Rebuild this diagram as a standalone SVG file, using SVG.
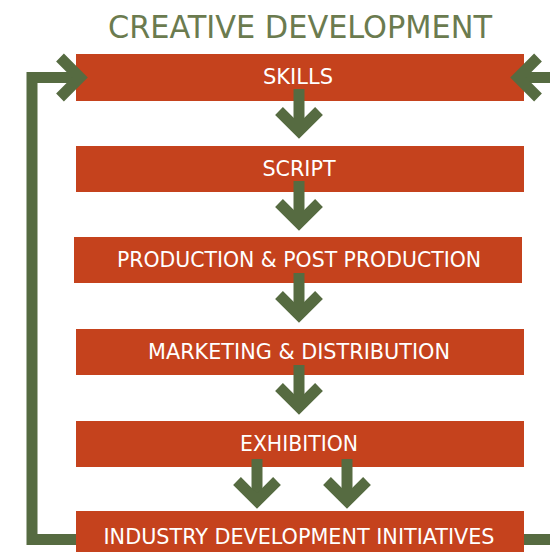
<svg xmlns="http://www.w3.org/2000/svg" width="550" height="552" viewBox="0 0 550 552">
<style>
.box{fill:#C5421D}
.lbl{fill:#FFFFFF;font-family:"DejaVu Sans Condensed","DejaVu Sans","Liberation Sans",sans-serif;font-size:21.5px;text-anchor:middle}
.title{fill:#6B7B4F;font-family:"DejaVu Sans Condensed","DejaVu Sans","Liberation Sans",sans-serif;font-size:32px;text-anchor:middle}
.ln{fill:none;stroke:#566B41;stroke-width:11;stroke-linejoin:miter;stroke-miterlimit:10}
</style>
<defs>
<g id="down">
<line x1="0" y1="-50" x2="0" y2="-10" class="ln"/>
<polyline points="-20,-28 0,-8 20,-28" class="ln"/>
</g>
</defs>
<rect width="550" height="552" fill="#FFFFFF"/>
<text class="title" x="300" y="38" textLength="384" lengthAdjust="spacingAndGlyphs">CREATIVE DEVELOPMENT</text>
<g id="n-skills"><rect class="box" x="76" y="54" width="448" height="47"/><text class="lbl" x="298" y="83.5" textLength="70" lengthAdjust="spacingAndGlyphs">SKILLS</text></g>
<g id="n-script"><rect class="box" x="76" y="146" width="448" height="46"/><text class="lbl" x="299" y="175.5" textLength="73" lengthAdjust="spacingAndGlyphs">SCRIPT</text></g>
<g id="n-production"><rect class="box" x="74" y="237" width="448" height="46"/><text class="lbl" x="299" y="266.5" textLength="364" lengthAdjust="spacingAndGlyphs">PRODUCTION &amp; POST PRODUCTION</text></g>
<g id="n-marketing"><rect class="box" x="76" y="329" width="448" height="46"/><text class="lbl" x="299" y="358.5" textLength="302" lengthAdjust="spacingAndGlyphs">MARKETING &amp; DISTRIBUTION</text></g>
<g id="n-exhibition"><rect class="box" x="76" y="421" width="448" height="46"/><text class="lbl" x="299" y="450.5" textLength="118" lengthAdjust="spacingAndGlyphs">EXHIBITION</text></g>
<g id="n-industry"><rect class="box" x="76" y="511" width="448" height="47"/><text class="lbl" x="299" y="544" textLength="391" lengthAdjust="spacingAndGlyphs">INDUSTRY DEVELOPMENT INITIATIVES</text></g>
<g id="connectors">
<use href="#down" x="299" y="139"/>
<use href="#down" x="299" y="231"/>
<use href="#down" x="299" y="323"/>
<use href="#down" x="299" y="415"/>
<use href="#down" x="257" y="509"/>
<use href="#down" x="347" y="509"/>
<path class="ln" d="M76,539.5 H32 V77.5 H80"/>
<polyline class="ln" points="60,57.5 80,77.5 60,97.5"/>
<path class="ln" d="M550,77.5 H518"/>
<polyline class="ln" points="538,57.5 518,77.5 538,97.5"/>
<path class="ln" d="M524,539.5 H550"/>
</g>
</svg>
